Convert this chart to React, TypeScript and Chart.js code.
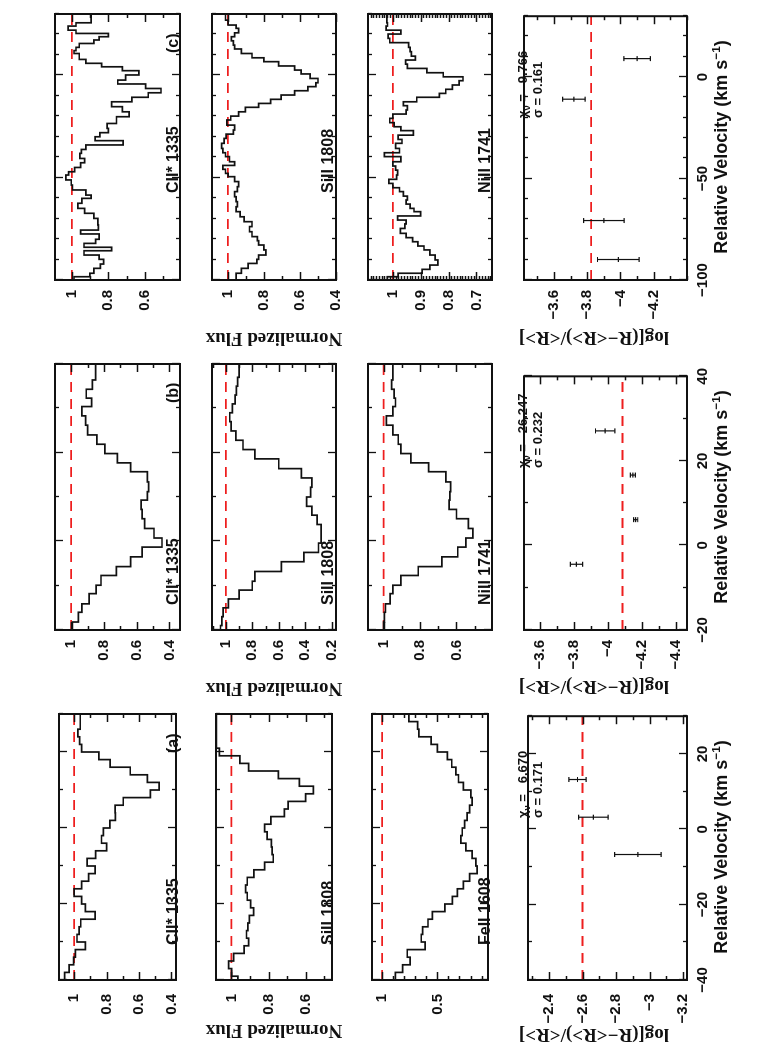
import React, { useEffect, useRef } from "react";
import { Chart, registerables } from "chart.js";
Chart.register(...registerables);

// ---------------- Data ----------------
// Panel (a)
const A_CII_EDGES = [-40, -38, -36, -34, -32, -30, -28, -26, -24, -22, -20, -18, -16, -14, -12, -10, -8, -6, -4, -2, 0, 2, 4, 6, 8, 10, 12, 14, 16, 18, 20, 22, 24, 26, 28, 30];
const A_CII_FLUX = [1.043, 1.058, 1.031, 1.003, 0.992, 0.931, 0.982, 0.969, 0.959, 0.87, 0.931, 0.954, 1.0, 0.954, 0.911, 0.87, 0.92, 0.867, 0.8, 0.831, 0.819, 0.78, 0.746, 0.747, 0.697, 0.53, 0.476, 0.548, 0.654, 0.778, 0.847, 0.954, 0.966, 0.977, 0.962];
const A_SI_EDGES = [-41, -39, -37, -35, -33, -31, -29, -27, -25, -23, -21, -19, -17, -15, -13, -11, -9, -7, -5, -3, -1, 1, 3, 5, 7, 9, 11, 13, 15, 17, 19, 21, 23, 25, 27, 29, 31];
const A_SI_FLUX = [0.965, 0.965, 0.999, 1.015, 0.988, 0.932, 0.908, 0.919, 0.912, 0.904, 0.881, 0.897, 0.915, 0.924, 0.915, 0.879, 0.821, 0.775, 0.781, 0.785, 0.808, 0.821, 0.788, 0.715, 0.695, 0.601, 0.559, 0.635, 0.748, 0.908, 0.955, 1.065, 1.081, 1.081, 1.081, 1.081];
const A_FE_EDGES = [-40, -38, -36, -34, -32, -30, -28, -26, -24, -22, -20, -18, -16, -14, -12, -10, -8, -6, -4, -2, 0, 2, 4, 6, 8, 10, 12, 14, 16, 18, 20, 22, 24, 26, 28, 30, 32];
const A_FE_FLUX = [0.948, 0.881, 0.814, 0.747, 0.773, 0.612, 0.646, 0.634, 0.585, 0.545, 0.432, 0.365, 0.32, 0.264, 0.208, 0.141, 0.152, 0.186, 0.242, 0.287, 0.275, 0.253, 0.231, 0.208, 0.186, 0.197, 0.264, 0.309, 0.332, 0.37, 0.41, 0.5, 0.556, 0.668, 0.679, 0.758];
const A_ERR_V = [13.2, 3.2, -6.7];
const A_ERR_C = [-2.57, -2.665, -2.93];
const A_ERR_E = [0.051, 0.088, 0.139];

// Panel (b)
const B_EDGES = [-20, -18.2, -16.0, -14.1, -11.8, -9.9, -7.7, -5.7, -3.5, -1.3, 0.75, 2.9, 5.1, 7.2, 9.3, 11.2, 13.4, 15.7, 17.7, 19.8, 21.9, 24.0, 26.2, 28.3, 30.4, 32.3, 34.3, 36.4, 38.5, 40];
const B_CII_FLUX = [0.989, 0.992, 0.956, 0.935, 0.891, 0.848, 0.818, 0.724, 0.637, 0.567, 0.445, 0.494, 0.551, 0.567, 0.572, 0.535, 0.527, 0.535, 0.637, 0.718, 0.794, 0.843, 0.899, 0.912, 0.935, 0.875, 0.908, 0.87, 0.851];
const B_SI_EDGES = [-21, -19, -17, -15, -13, -11, -9, -6.8, -4.6, -2.5, -0.4, 1.7, 3.8, 5.9, 7.9, 10.0, 12.2, 14.3, 16.4, 18.6, 20.7, 22.8, 24.9, 27.0, 29.0, 31.0, 33.0, 35.0, 37.0, 39.0, 41];
const B_SI_FLUX = [1.05, 1.04, 1.03, 1.02, 0.98, 0.9, 0.8, 0.78, 0.58, 0.41, 0.3, 0.28, 0.28, 0.31, 0.35, 0.39, 0.36, 0.35, 0.43, 0.6, 0.78, 0.87, 0.924, 0.96, 0.97, 0.95, 0.93, 0.92, 0.91, 0.9];
const B_NI_FLUX = [1.007, 1.0, 0.996, 0.99, 0.964, 0.949, 0.905, 0.81, 0.68, 0.593, 0.549, 0.51, 0.535, 0.6, 0.64, 0.636, 0.632, 0.658, 0.753, 0.85, 0.905, 0.92, 0.949, 0.985, 0.949, 0.935, 0.942, 0.956, 0.949];
const B_ERR_V = [27.1, 16.65, 6.1, -4.45];
const B_ERR_C = [-3.982, -4.145, -4.162, -3.813];
const B_ERR_E = [0.057, 0.015, 0.012, 0.036];

// Panel (c)
const C_CII_EDGES = [-100, -98.4, -96.7, -94.3, -92.2, -89.9, -87.8, -85.7, -84.0, -82.1, -80.1, -77.5, -75.6, -73.1, -69.9, -67.4, -65.0, -62.5, -60.1, -58.5, -56.0, -53.6, -51.1, -48.7, -47.1, -45.0, -42.7, -40.6, -38.1, -36.2, -34.0, -31.9, -30.0, -28.0, -25.9, -23.5, -20.2, -17.8, -15.3, -12.9, -10.7, -8.5, -6.4, -4.2, -2.3, 0.2, 2.3, 4.2, 5.9, 7.8, 10.7, 12.1, 13.7, 15.6, 17.3, 18.9, 20.5, 22.1, 24.1, 25.7, 27.4, 29.5, 30];
const C_CII_FLUX = [0.991, 0.988, 0.901, 0.879, 0.843, 0.825, 0.85, 0.933, 0.782, 0.933, 0.869, 0.85, 0.952, 0.854, 0.857, 0.879, 0.93, 0.967, 0.945, 0.894, 0.923, 0.996, 1.003, 1.032, 1.017, 0.985, 0.952, 0.93, 0.956, 0.948, 0.923, 0.719, 0.872, 0.846, 0.8, 0.806, 0.755, 0.686, 0.723, 0.782, 0.671, 0.581, 0.511, 0.595, 0.748, 0.705, 0.632, 0.723, 0.836, 0.923, 0.959, 0.988, 0.977, 0.959, 0.879, 0.85, 0.8, 0.977, 1.02, 0.977, 0.894, 0.894];
const C_SI_EDGES = [-100, -96.7, -94.3, -91.9, -89.9, -87.8, -85.3, -82.9, -80.8, -78.8, -76.4, -73.9, -71.5, -69.1, -66.6, -64.2, -61.7, -59.3, -56.8, -54.4, -51.9, -49.5, -47.9, -45.9, -44.0, -42.2, -39.7, -37.8, -35.7, -33.2, -30.8, -28.7, -26.7, -24.3, -21.8, -19.9, -17.8, -15.6, -13.7, -11.7, -9.6, -7.5, -5.5, -3.6, -1.5, 0.7, 2.6, 4.6, 6.7, 8.6, 10.7, 12.9, 14.8, 16.9, 18.9, 20.8, 23.0, 24.6, 27.0, 28.7, 30];
const C_SI_FLUX = [0.962, 0.954, 0.925, 0.888, 0.839, 0.829, 0.789, 0.8, 0.829, 0.836, 0.866, 0.88, 0.866, 0.91, 0.932, 0.954, 0.947, 0.954, 0.962, 0.947, 0.94, 0.962, 0.999, 1.013, 1.028, 0.962, 0.991, 1.013, 1.028, 1.035, 1.021, 1.01, 0.969, 0.962, 1.006, 0.984, 0.94, 0.903, 0.829, 0.763, 0.704, 0.63, 0.556, 0.512, 0.5, 0.544, 0.593, 0.63, 0.718, 0.8, 0.866, 0.925, 0.962, 0.969, 0.981, 0.962, 0.94, 0.954, 0.999, 1.013];
const C_NI_EDGES = [-100, -98.4, -96.7, -94.8, -92.7, -90.2, -87.8, -85.3, -83.4, -81.3, -79.3, -77.2, -74.8, -72.6, -70.7, -68.7, -66.6, -65.0, -62.9, -60.9, -59.0, -56.8, -54.9, -52.8, -50.8, -48.7, -46.3, -44.3, -42.2, -39.7, -37.8, -35.7, -33.2, -31.3, -29.2, -27.0, -25.1, -23.1, -21.0, -18.9, -16.9, -14.8, -12.9, -10.7, -8.8, -6.8, -4.7, -2.6, -0.7, 1.3, 3.4, 5.5, 7.5, 9.4, 11.6, 13.7, 16.0, 18.1, 20.2, 22.1, 24.1, 25.7, 27.9, 30];
const C_NI_FLUX = [1.027, 1.02, 0.981, 0.895, 0.867, 0.838, 0.848, 0.867, 0.888, 0.91, 0.929, 0.952, 0.973, 0.957, 0.952, 0.983, 0.9, 0.924, 0.938, 0.952, 0.948, 0.962, 0.976, 1.0, 1.014, 0.986, 0.983, 0.99, 1.0, 0.971, 1.03, 0.976, 0.99, 0.967, 0.981, 0.926, 0.971, 0.995, 1.011, 1.0, 0.952, 0.948, 0.962, 0.914, 0.833, 0.81, 0.786, 0.762, 0.748, 0.819, 0.878, 0.948, 0.954, 0.919, 0.933, 0.938, 0.943, 1.011, 1.017, 0.971, 1.024, 1.019, 1.021];
const C_ERR_V = [9.1, -10.9, -70.7, -89.9];
const C_ERR_C = [-4.1, -3.72, -3.9, -3.987];
const C_ERR_E = [0.08, 0.068, 0.122, 0.125];

// Tick labels
const A_X_LABELS = [-40, -20, 0, 20];
const B_X_LABELS = [-20, 0, 20, 40];
const C_X_LABELS = [-100, -50, 0];

const CHI_TEXT = ["6.670", "26.247", "9.766"];
const SIGMA_TEXT = ["0.171", "0.232", "0.161"];

// ---------------- Styles ----------------
const INK = "#111111";
const RED = "rgb(238,30,30)";
const SANS = "'Liberation Sans', Arial, Helvetica, sans-serif";
const SERIF = "'Liberation Serif', 'Times New Roman', serif";
const L = 72;
const P = 3;
const BX = 34;

type Spec = {
  fx: number; fy: number; fw: number; fh: number;
  xMin: number; xMax: number; yMin: number; yMax: number;
  xMajor: number; xMinor: number;
  yLabels: number[]; yMinor: number;
  edges?: number[]; values?: number[];
  errV?: number[]; errC?: number[]; errE?: number[];
  ref: number;
  xLabels?: number[];
  gap: number;
};

const fmt = (v: number) => {
  const r = Math.round(v * 1000) / 1000;
  return r < 0 ? "\u2212" + String(-r) : String(r);
};

function stepPoints(edges: number[], values: number[]) {
  return edges.map((e, i) => ({ x: e, y: values[Math.min(i, values.length - 1)] }));
}

function Panel({ s }: { s: Spec }) {
  const ref = useRef<HTMLCanvasElement | null>(null);
  const B = s.xLabels ? BX : P;
  const cw = L + s.fw + P;
  const ch = P + s.fh + B;
  useEffect(() => {
    const canvas = ref.current;
    if (!canvas) return;
    const datasets: any[] = [];
    datasets.push({
      data: [{ x: s.xMin, y: s.ref }, { x: s.xMax, y: s.ref }],
      borderColor: RED, borderWidth: 1.8, borderDash: [10, 7], pointRadius: 0, order: 2,
    });
    if (s.edges && s.values) {
      datasets.push({
        data: stepPoints(s.edges, s.values), stepped: "after",
        borderColor: INK, borderWidth: 1.7, pointRadius: 0, order: 1,
      });
    }
    if (s.errV && s.errC && s.errE) {
      s.errV.forEach((v, i) => {
        const c = s.errC![i];
        const e = s.errE![i];
        datasets.push({
          data: [{ x: v, y: c - e }, { x: v, y: c }, { x: v, y: c + e }],
          borderColor: INK, borderWidth: 1.2, pointStyle: "line", pointRadius: 2.5,
          pointBorderWidth: 1.2, pointBorderColor: INK, order: 1,
        });
      });
    }
    const frame = {
      id: "frameTicks",
      afterDatasetsDraw(chart: any) {
        const { ctx, chartArea: a } = chart;
        const x = chart.scales.x;
        const y = chart.scales.y;
        const eps = 1e-6;
        ctx.save();
        ctx.strokeStyle = INK;
        ctx.lineWidth = 1.3;
        ctx.beginPath();
        const n0 = Math.ceil((s.xMin - eps) / s.xMinor);
        const n1 = Math.floor((s.xMax + eps) / s.xMinor);
        for (let n = n0; n <= n1; n++) {
          const v = n * s.xMinor;
          const q = v / s.xMajor;
          const major = Math.abs(q - Math.round(q)) < 1e-6;
          const len = major ? 8 : 4;
          const px = Math.round(x.getPixelForValue(v)) + 0.5;
          ctx.moveTo(px, a.bottom); ctx.lineTo(px, a.bottom - len);
          ctx.moveTo(px, a.top); ctx.lineTo(px, a.top + len);
        }
        const m0 = Math.ceil((s.yMin - eps) / s.yMinor);
        const m1 = Math.floor((s.yMax + eps) / s.yMinor);
        for (let n = m0; n <= m1; n++) {
          const v = n * s.yMinor;
          const major = s.yLabels.some((t) => Math.abs(t - v) < 1e-6);
          const len = major ? 8 : 4;
          const py = Math.round(y.getPixelForValue(v)) + 0.5;
          ctx.moveTo(a.left, py); ctx.lineTo(a.left + len, py);
          ctx.moveTo(a.right, py); ctx.lineTo(a.right - len, py);
        }
        ctx.stroke();
        ctx.lineWidth = 2;
        ctx.strokeRect(a.left, a.top, a.right - a.left, a.bottom - a.top);
        ctx.restore();
      },
    };
    const tickFont = { family: SANS, size: 15, weight: "bold" as const };
    const chart = new Chart(canvas, {
      type: "line",
      data: { datasets },
      options: {
        animation: false,
        responsive: false,
        devicePixelRatio: 1,
        events: [],
        layout: { padding: { left: 0, top: P, right: P, bottom: s.xLabels ? 0 : P } },
        plugins: { legend: { display: false }, tooltip: { enabled: false } },
        scales: {
          x: {
            type: "linear", min: s.xMin, max: s.xMax, display: !!s.xLabels,
            grid: { display: false, drawTicks: false }, border: { display: false },
            ticks: {
              autoSkip: false, maxRotation: 0, minRotation: 0, padding: 7, color: INK,
              font: tickFont, callback: (v: any) => fmt(Number(v)),
            },
            afterBuildTicks: (sc: any) => {
              if (s.xLabels) sc.ticks = s.xLabels.map((v) => ({ value: v }));
            },
            afterFit: (sc: any) => {
              if (s.xLabels) sc.height = BX;
            },
          },
          y: {
            type: "linear", min: s.yMin, max: s.yMax, position: "left",
            grid: { display: false, drawTicks: false }, border: { display: false },
            ticks: {
              autoSkip: false, padding: s.gap, color: INK, font: tickFont,
              callback: (v: any) => fmt(Number(v)),
            },
            afterBuildTicks: (sc: any) => {
              sc.ticks = s.yLabels.map((v) => ({ value: v }));
            },
            afterFit: (sc: any) => {
              sc.width = L;
            },
          },
        },
      } as any,
      plugins: [frame],
    });
    return () => chart.destroy();
  }, []);
  return (
    <canvas
      ref={ref}
      width={cw}
      height={ch}
      style={{ position: "absolute", left: s.fx - L, top: s.fy - P, width: cw, height: ch }}
    />
  );
}

function Txt({ x, y, size, children, center }: { x: number; y: number; size: number; children: any; center?: boolean }) {
  const top = y - 0.8465 * size;
  const style: any = {
    position: "absolute", top, lineHeight: 1, whiteSpace: "nowrap",
    font: `bold ${size}px ${SANS}`, color: INK,
  };
  if (center) {
    style.left = x - 250; style.width = 500; style.textAlign = "center";
  } else {
    style.left = x;
  }
  return <div style={style}>{children}</div>;
}

function VTitle({ cx, cy, size, text }: { cx: number; cy: number; size: number; text: string }) {
  return (
    <div
      style={{
        position: "absolute", left: cx, top: cy, whiteSpace: "nowrap", lineHeight: 1,
        font: `bold ${size}px ${SERIF}`, color: INK,
        transform: "translate(-50%, -50%) rotate(-90deg)",
      }}
    >
      {text}
    </div>
  );
}

const COLS = [70, 420, 770];
const ROWS = [39, 196, 352, 508];
const ROWH = [157, 156, 156, 179];
const FW = 266;

function buildSpecs(): Spec[] {
  const sp: Spec[] = [];
  const base = (c: number, r: number) => ({ fx: COLS[c], fy: ROWS[r], fw: FW, fh: ROWH[r] });
  // column a
  const ax = { xMin: -40, xMax: 30, xMajor: 20, xMinor: 10 };
  sp.push({ ...base(0, 0), ...ax, yMin: 0.372, yMax: 1.093, yLabels: [1, 0.8, 0.6, 0.4], yMinor: 0.1, edges: A_CII_EDGES, values: A_CII_FLUX, ref: 1, gap: 14 });
  sp.push({ ...base(0, 1), ...ax, yMin: 0.459, yMax: 1.083, yLabels: [1, 0.8, 0.6], yMinor: 0.1, edges: A_SI_EDGES, values: A_SI_FLUX, ref: 1, gap: 14 });
  sp.push({ ...base(0, 2), ...ax, yMin: 0.042, yMax: 1.092, yLabels: [1, 0.5], yMinor: 0.1, edges: A_FE_EDGES, values: A_FE_FLUX, ref: 1, gap: 14 });
  sp.push({ ...base(0, 3), ...ax, yMin: -3.223, yMax: -2.275, yLabels: [-2.4, -2.6, -2.8, -3, -3.2], yMinor: 0.1, errV: A_ERR_V, errC: A_ERR_C, errE: A_ERR_E, ref: -2.6, xLabels: A_X_LABELS, gap: 14 });
  // column b
  const bx = { xMin: -20, xMax: 40, xMajor: 20, xMinor: 10 };
  sp.push({ ...base(1, 0), ...bx, yMin: 0.335, yMax: 1.099, yLabels: [1, 0.8, 0.6, 0.4], yMinor: 0.1, edges: B_EDGES, values: B_CII_FLUX, ref: 1, gap: 10 });
  sp.push({ ...base(1, 1), ...bx, yMin: 0.168, yMax: 1.104, yLabels: [1, 0.8, 0.6, 0.4, 0.2], yMinor: 0.1, edges: B_SI_EDGES, values: B_SI_FLUX, ref: 1, gap: 10 });
  sp.push({ ...base(1, 2), ...bx, yMin: 0.405, yMax: 1.086, yLabels: [1, 0.8, 0.6], yMinor: 0.1, edges: B_EDGES, values: B_NI_FLUX, ref: 1, gap: 10 });
  sp.push({ ...base(1, 3), ...bx, yMin: -4.464, yMax: -3.504, yLabels: [-3.6, -3.8, -4, -4.2, -4.4], yMinor: 0.1, errV: B_ERR_V, errC: B_ERR_C, errE: B_ERR_E, ref: -4.084, xLabels: B_X_LABELS, gap: 10 });
  // column c
  const cx = { xMin: -100, xMax: 30, xMajor: 50, xMinor: 10 };
  sp.push({ ...base(2, 0), ...cx, yMin: 0.407, yMax: 1.092, yLabels: [1, 0.8, 0.6], yMinor: 0.1, edges: C_CII_EDGES, values: C_CII_FLUX, ref: 1, gap: 10 });
  sp.push({ ...base(2, 1), ...cx, yMin: 0.4, yMax: 1.088, yLabels: [1, 0.8, 0.6, 0.4], yMinor: 0.1, edges: C_SI_EDGES, values: C_SI_FLUX, ref: 1, gap: 10 });
  sp.push({ ...base(2, 2), ...cx, yMin: 0.644, yMax: 1.089, yLabels: [1, 0.9, 0.8, 0.7], yMinor: 0.01, edges: C_NI_EDGES, values: C_NI_FLUX, ref: 1, gap: 10 });
  sp.push({ ...base(2, 3), ...cx, yMin: -4.4, yMax: -3.42, yLabels: [-3.6, -3.8, -4, -4.2], yMinor: 0.1, errV: C_ERR_V, errC: C_ERR_C, errE: C_ERR_E, ref: -3.824, xLabels: C_X_LABELS, gap: 10 });
  return sp;
}

const SPECS = buildSpecs();
const LINE_NAMES = [
  ["CII* 1335", "SiII 1808", "FeII 1608"],
  ["CII* 1335", "SiII 1808", "NiII 1741"],
  ["CII* 1335", "SiII 1808", "NiII 1741"],
];
const TAGS = ["(a)", "(b)", "(c)"];
const NAME_X = [105, 445, 857];
const NAME_Y = [178, 333, 490];
const FLUX_TITLE_X = [18.5, 361, 711];
const LOG_TITLE_X = [15, 362.5, 711.5];

export default function App() {
  return (
    <div style={{ position: "absolute", left: 0, top: 0, width: 781, height: 1050, overflow: "hidden", background: "#fff" }}>
      <div
        style={{
          position: "absolute", left: 0, top: 0, width: 1050, height: 781,
          transformOrigin: "0 0", transform: "translateY(1050px) rotate(-90deg)",
        }}
      >
        {SPECS.map((s, i) => (
          <Panel key={i} s={s} />
        ))}
        {COLS.map((cxp, c) => (
          <React.Fragment key={"c" + c}>
            {LINE_NAMES[c].map((n, r) => (
              <Txt key={n + r} x={NAME_X[c]} y={NAME_Y[r]} size={16}>{n}</Txt>
            ))}
            <Txt x={cxp + FW - 39} y={178} size={16}>{TAGS[c]}</Txt>
            <Txt x={cxp + 162} y={526} size={13}>
              {"\u03c7"}
              <span style={{ fontSize: "0.72em", position: "relative", top: "0.3em" }}>{"\u03bd"}</span>
              {" =\u00a0\u00a0\u00a0" + CHI_TEXT[c]}
            </Txt>
            <Txt x={cxp + 162} y={541} size={13}>{"\u03c3 = " + SIGMA_TEXT[c]}</Txt>
            <Txt x={cxp + FW / 2} y={726} size={18} center>
              {"Relative Velocity (km s"}
              <span style={{ fontSize: "0.65em", position: "relative", top: "-0.55em" }}>{"\u22121"}</span>
              {")"}
            </Txt>
            <VTitle cx={FLUX_TITLE_X[c]} cy={273.5} size={19} text="Normalized Flux" />
            <VTitle cx={LOG_TITLE_X[c]} cy={594} size={19} text={"log[(R\u2212<R>)/<R>]"} />
          </React.Fragment>
        ))}
      </div>
    </div>
  );
}
